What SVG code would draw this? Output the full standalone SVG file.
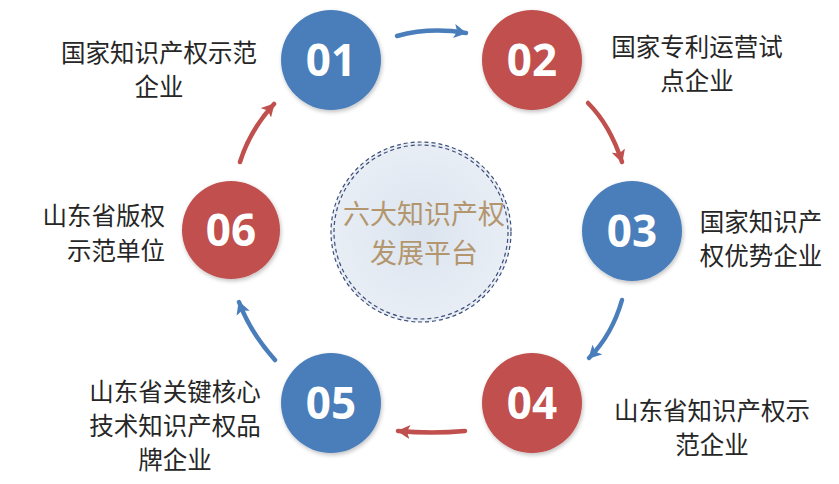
<svg xmlns="http://www.w3.org/2000/svg" width="839" height="484" viewBox="0 0 839 484">
<style>
.lbl{font-family:"Noto Sans CJK SC","Noto Sans",sans-serif;font-size:24.5px;fill:#262626;text-anchor:middle}
.num{font-family:"Open Sans","DejaVu Sans",sans-serif;font-weight:bold;font-size:44px;fill:#ffffff;text-anchor:middle}
.blue{fill:#4a7ebb}
.red{fill:#c0504d}
.ab{fill:none;stroke:#4a7ebb;stroke-width:4.5;stroke-linecap:round;marker-end:url(#ha-b)}
.ar{fill:none;stroke:#c0504d;stroke-width:4.5;stroke-linecap:round;marker-end:url(#ha-r)}
.ctr{font-family:"Noto Sans CJK SC",sans-serif;font-size:27px;fill:#b3966e;text-anchor:middle}
</style>
<defs>
<marker id="ha-b" markerUnits="userSpaceOnUse" markerWidth="16" markerHeight="14" refX="12" refY="7" orient="auto">
<path d="M0,0 L13,7 L0,14 L3,7 Z" fill="#4a7ebb"/>
</marker>
<marker id="ha-r" markerUnits="userSpaceOnUse" markerWidth="16" markerHeight="14" refX="12" refY="7" orient="auto">
<path d="M0,0 L13,7 L0,14 L3,7 Z" fill="#c0504d"/>
</marker>
<radialGradient id="cg" cx="0.5" cy="0.5" r="0.5">
<stop offset="0" stop-color="#dbe4ef"/>
<stop offset="1" stop-color="#e9eef5"/>
</radialGradient>
<filter id="sh" x="-20%" y="-20%" width="140%" height="140%">
<feGaussianBlur in="SourceAlpha" stdDeviation="2"/>
<feOffset dx="1" dy="2"/>
<feComponentTransfer><feFuncA type="linear" slope="0.25"/></feComponentTransfer>
<feMerge><feMergeNode/><feMergeNode in="SourceGraphic"/></feMerge>
</filter>
</defs>
<rect width="839" height="484" fill="#ffffff"/>

<g id="center">
<circle cx="421" cy="232" r="90" fill="url(#cg)"/>
<circle cx="421" cy="232" r="90" fill="none" stroke="#3d4f7a" stroke-width="1.2" stroke-dasharray="4 3"/>
<circle cx="421" cy="232" r="87" fill="none" stroke="#3d4f7a" stroke-width="1.2" stroke-dasharray="4 3"/>
<text class="ctr" x="424" y="224">六大知识产权</text>
<text class="ctr" x="424" y="263">发展平台</text>
</g>

<g id="connectors">
<path class="ab" d="M397,36 Q430,27 466,33"/>
<path class="ar" d="M588,103 Q610,125 622,162"/>
<path class="ab" d="M622,300 Q612,335 589,358"/>
<path class="ar" d="M465,431 Q432,434 398,431"/>
<path class="ab" d="M275,360 Q250,332 239,302"/>
<path class="ar" d="M240,162 Q250,130 274,104"/>
</g>

<g id="n01">
<circle class="blue" cx="331" cy="60" r="50" filter="url(#sh)"/>
<text class="num" x="331" y="76">01</text>
<text class="lbl" x="159" y="62">国家知识产权示范</text>
<text class="lbl" x="159" y="96">企业</text>
</g>
<g id="n02">
<circle class="red" cx="532" cy="60" r="50" filter="url(#sh)"/>
<text class="num" x="532" y="76">02</text>
<text class="lbl" x="697" y="56">国家专利运营试</text>
<text class="lbl" x="697" y="90">点企业</text>
</g>
<g id="n03">
<circle class="blue" cx="632" cy="231" r="50" filter="url(#sh)"/>
<text class="num" x="632" y="247">03</text>
<text class="lbl" x="761" y="231">国家知识产</text>
<text class="lbl" x="761" y="265">权优势企业</text>
</g>
<g id="n04">
<circle class="red" cx="532" cy="403" r="50" filter="url(#sh)"/>
<text class="num" x="532" y="419">04</text>
<text class="lbl" x="712" y="420">山东省知识产权示</text>
<text class="lbl" x="712" y="454">范企业</text>
</g>
<g id="n05">
<circle class="blue" cx="331" cy="403" r="50" filter="url(#sh)"/>
<text class="num" x="331" y="419">05</text>
<text class="lbl" x="175" y="401">山东省关键核心</text>
<text class="lbl" x="175" y="435">技术知识产权品</text>
<text class="lbl" x="175" y="469">牌企业</text>
</g>
<g id="n06">
<circle class="red" cx="231" cy="230" r="49" filter="url(#sh)"/>
<text class="num" x="231" y="246">06</text>
<text class="lbl" x="165" y="225" style="text-anchor:end">山东省版权</text>
<text class="lbl" x="165" y="260" style="text-anchor:end">示范单位</text>
</g>
</svg>
